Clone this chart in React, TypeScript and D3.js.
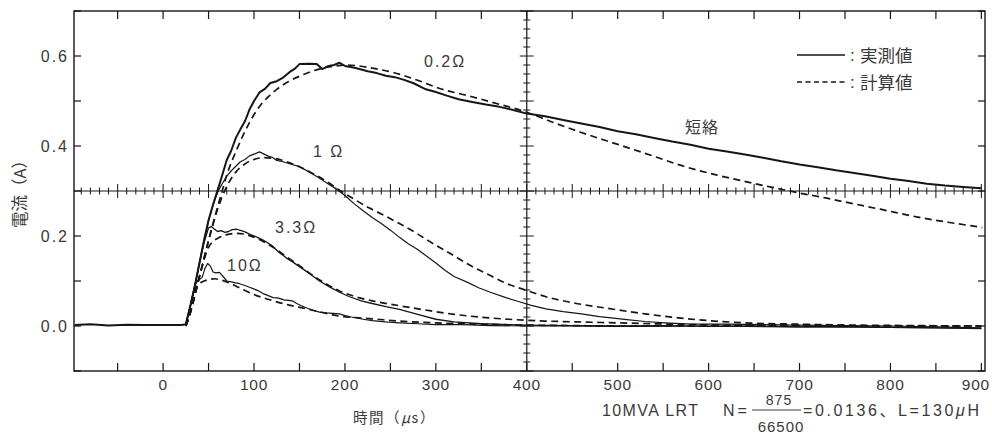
import React from 'react';
import * as d3 from 'd3';

// ---- axis data ----
const xTickValues = [-50, 0, 50, 100, 150, 200, 250, 300, 350, 400, 450, 500, 550, 600, 650, 700, 750, 800, 850, 900];
const xTickLabels = [0, 100, 200, 300, 400, 500, 600, 700, 800, 900];
const yTickValues = [-0.1, 0, 0.1, 0.2, 0.3, 0.4, 0.5, 0.6, 0.7];
const yTickLabels = [0.0, 0.2, 0.4, 0.6];

// ---- 0.2 Ω / short circuit : measured (solid) ----
const tMeas02 = [-97, -80, -60, -40, -20, 0, 20, 25, 30, 35, 40, 45, 50, 55, 60, 65, 70, 75, 80, 85, 90, 95, 100, 106, 112, 118, 125, 132, 139, 145, 150, 160, 169, 175, 182, 188, 194, 200, 208, 216, 225, 235, 245, 255, 265, 275, 289, 300, 312, 325, 340, 355, 370, 385, 400, 420, 440, 460, 480, 500, 520, 540, 560, 580, 600, 620, 640, 660, 680, 700, 720, 740, 760, 780, 800, 820, 840, 860, 880, 900];
const vMeas02 = [0.002, 0.004, 0.001, 0.003, 0.002, 0.002, 0.002, 0.004, 0.045, 0.09, 0.14, 0.19, 0.235, 0.27, 0.302, 0.335, 0.369, 0.39, 0.418, 0.437, 0.455, 0.481, 0.5, 0.519, 0.527, 0.54, 0.544, 0.552, 0.564, 0.572, 0.582, 0.583, 0.582, 0.571, 0.578, 0.58, 0.585, 0.578, 0.575, 0.571, 0.566, 0.562, 0.556, 0.553, 0.547, 0.54, 0.526, 0.52, 0.512, 0.504, 0.498, 0.492, 0.487, 0.48, 0.472, 0.466, 0.458, 0.45, 0.442, 0.433, 0.426, 0.418, 0.41, 0.403, 0.394, 0.388, 0.381, 0.374, 0.366, 0.359, 0.353, 0.346, 0.34, 0.334, 0.327, 0.322, 0.316, 0.312, 0.309, 0.306];
// ---- 0.2 Ω / short circuit : calculated (dashed) ----
const tCalc02 = [25, 30, 40, 50, 60, 65, 70, 81, 95, 106, 115, 125, 137, 150, 165, 180, 190, 202, 215, 230, 252, 280, 307, 335, 362, 400, 427, 460, 501, 540, 574, 610, 647, 675, 701, 730, 756, 790, 830, 865, 901];
const vCalc02 = [0, 0.03, 0.11, 0.19, 0.265, 0.3, 0.335, 0.392, 0.452, 0.488, 0.508, 0.526, 0.542, 0.555, 0.567, 0.575, 0.578, 0.58, 0.578, 0.573, 0.564, 0.546, 0.526, 0.512, 0.497, 0.475, 0.454, 0.43, 0.403, 0.377, 0.354, 0.335, 0.318, 0.306, 0.295, 0.284, 0.273, 0.259, 0.242, 0.23, 0.219];

// ---- 1 Ω ----
const tMeas1 = [25, 30, 35, 40, 45, 50, 55, 60, 65, 70, 75, 80, 85, 90, 95, 100, 106, 110, 115, 120, 125, 132, 140, 150, 160, 170, 180, 190, 200, 210, 220, 230, 240, 250, 260, 270, 280, 290, 300, 310, 320, 335, 347, 360, 377, 390, 405, 421, 440, 460, 480, 493, 510, 530, 552, 580, 620, 660, 700, 750, 800, 850, 900];
const vMeas1 = [0.004, 0.045, 0.09, 0.14, 0.19, 0.235, 0.27, 0.298, 0.316, 0.333, 0.345, 0.355, 0.365, 0.37, 0.378, 0.382, 0.387, 0.383, 0.378, 0.375, 0.368, 0.365, 0.36, 0.354, 0.343, 0.331, 0.318, 0.305, 0.29, 0.272, 0.256, 0.241, 0.228, 0.213, 0.197, 0.182, 0.17, 0.155, 0.14, 0.124, 0.11, 0.097, 0.085, 0.075, 0.063, 0.055, 0.046, 0.038, 0.032, 0.027, 0.021, 0.018, 0.014, 0.01, 0.007, 0.004, 0.004, 0.003, 0.002, 0.001, 0.0, -0.002, -0.004];
const tCalc1 = [25, 30, 40, 50, 60, 70, 80, 90, 100, 110, 120, 130, 140, 150, 160, 170, 180, 194, 210, 227, 240, 255, 278, 293, 315, 340, 360, 377, 400, 421, 450, 493, 530, 567, 600, 640, 700, 760, 820, 900];
const vCalc1 = [0, 0.03, 0.11, 0.19, 0.26, 0.31, 0.342, 0.36, 0.37, 0.374, 0.373, 0.369, 0.362, 0.354, 0.344, 0.333, 0.321, 0.302, 0.282, 0.262, 0.249, 0.233, 0.207, 0.188, 0.162, 0.132, 0.112, 0.095, 0.079, 0.065, 0.052, 0.038, 0.027, 0.018, 0.012, 0.007, 0.004, 0.002, 0.001, 0.0];

// ---- 3.3 Ω ----
const tMeas33 = [25, 30, 35, 40, 45, 48, 50, 53, 56, 60, 64, 68, 72, 76, 81, 86, 90, 95, 99, 105, 110, 114, 120, 128, 135, 142, 150, 160, 172, 183, 194, 205, 218, 230, 245, 260, 280, 300, 320, 350, 380, 400, 450, 500, 550, 600, 650, 700, 750, 800, 850, 900];
const vMeas33 = [0.004, 0.045, 0.09, 0.14, 0.185, 0.205, 0.218, 0.221, 0.216, 0.21, 0.212, 0.208, 0.21, 0.214, 0.215, 0.212, 0.209, 0.204, 0.201, 0.196, 0.191, 0.186, 0.178, 0.163, 0.152, 0.143, 0.132, 0.118, 0.1, 0.087, 0.075, 0.065, 0.056, 0.05, 0.043, 0.037, 0.026, 0.015, 0.009, 0.005, 0.003, 0.002, 0.001, 0.0, 0.001, -0.001, 0.0, -0.002, -0.001, -0.003, -0.004, -0.006];
const tCalc33 = [25, 30, 40, 50, 55, 62, 70, 81, 90, 99, 110, 121, 135, 150, 165, 180, 194, 210, 230, 260, 290, 320, 347, 380, 420, 457, 500, 560, 620, 700, 800, 900];
const vCalc33 = [0, 0.03, 0.11, 0.175, 0.188, 0.197, 0.203, 0.206, 0.204, 0.198, 0.188, 0.175, 0.155, 0.134, 0.112, 0.093, 0.078, 0.066, 0.056, 0.045, 0.035, 0.026, 0.02, 0.015, 0.011, 0.009, 0.007, 0.004, 0.002, 0.001, 0.0, 0.0];

// ---- 10 Ω ----
const tMeas10 = [25, 30, 35, 38, 43, 46, 49, 52, 55, 58, 62, 66, 70, 75, 80, 84, 90, 95, 99, 105, 110, 115, 121, 127, 133, 138, 142, 147, 152, 158, 165, 172, 180, 187, 194, 200, 207, 213, 220, 230, 245, 260, 280, 300, 330, 360, 400, 450, 500, 600, 700, 800, 900];
const vMeas10 = [0.004, 0.045, 0.09, 0.1, 0.108, 0.128, 0.139, 0.133, 0.12, 0.118, 0.119, 0.11, 0.1, 0.098, 0.096, 0.094, 0.09, 0.086, 0.083, 0.078, 0.072, 0.068, 0.063, 0.062, 0.058, 0.057, 0.056, 0.05, 0.045, 0.04, 0.035, 0.031, 0.029, 0.028, 0.027, 0.023, 0.02, 0.018, 0.015, 0.012, 0.009, 0.007, 0.005, 0.003, 0.003, 0.001, 0.0, 0.0, -0.001, 0.0, -0.002, -0.003, -0.005];
const tCalc10 = [25, 30, 35, 38, 45, 50, 57, 62, 70, 84, 100, 121, 140, 158, 175, 194, 210, 230, 260, 300, 350, 400, 450, 500, 900];
const vCalc10 = [0, 0.03, 0.075, 0.09, 0.1, 0.103, 0.105, 0.103, 0.098, 0.085, 0.07, 0.056, 0.046, 0.038, 0.03, 0.022, 0.019, 0.016, 0.011, 0.007, 0.004, 0.002, 0.001, 0.0, 0.0];

const curveLabels = ['0.2Ω', '1 Ω', '3.3Ω', '10Ω', '短絡'];
const curveLabelAt = [[424, 0.575], [313, 0.375], [275, 0.207], [227, 0.123], [685, 0.43]];

const series = [
  { t: tMeas02, v: vMeas02, dashed: false, w: 2 },
  { t: tCalc02, v: vCalc02, dashed: true, w: 1.7 },
  { t: tMeas1, v: vMeas1, dashed: false, w: 1.2 },
  { t: tCalc1, v: vCalc1, dashed: true, w: 1.7 },
  { t: tMeas33, v: vMeas33, dashed: false, w: 1.3 },
  { t: tCalc33, v: vCalc33, dashed: true, w: 1.7 },
  { t: tMeas10, v: vMeas10, dashed: false, w: 1.2 },
  { t: tCalc10, v: vCalc10, dashed: true, w: 1.7 },
];

const FONT = "'Liberation Sans', Arial, 'Noto Sans CJK JP', sans-serif";
const CJK = "'Noto Sans CJK JP', 'Liberation Sans', sans-serif";
const TXT = '#3a3a3a';
const INK = '#161616';

export default function App() {
  const x = d3.scaleLinear().domain([-98, 904]).range([74, 985]);
  const y = d3.scaleLinear().domain([-0.1, 0.7]).range([371, 11]);
  const [x0, x1] = x.range();
  const [y0, y1] = y.range();
  const cy = y(0.3);
  const cx = x(400);

  const solidLine = d3.line<number>().x((d: any) => x(d[0])).y((d: any) => y(d[1])).curve(d3.curveLinear) as any;
  const smoothLine = d3.line<number>().x((d: any) => x(d[0])).y((d: any) => y(d[1])).curve(d3.curveMonotoneX) as any;

  const hTicks = d3.range(-90, 901, 10);
  const vTicks = d3.range(-0.1, 0.7001, 0.02);

  return (
    <svg width={992} height={442} style={{ position: 'absolute', left: 0, top: 0, background: '#fff' }} fontFamily={FONT}>
      <rect x={0} y={0} width={992} height={442} fill="#fff" />
      {/* frame */}
      <rect x={x0} y={y1} width={x1 - x0} height={y0 - y1} fill="none" stroke={INK} strokeWidth={1.4} />
      {/* frame ticks */}
      {xTickValues.map((t) => (
        <g key={'xt' + t}>
          <line x1={x(t)} x2={x(t)} y1={y0} y2={y0 - 8} stroke={INK} strokeWidth={1.2} />
          <line x1={x(t)} x2={x(t)} y1={y1} y2={y1 + 8} stroke={INK} strokeWidth={1.2} />
        </g>
      ))}
      {yTickValues.map((v) => (
        <g key={'yt' + v}>
          <line x1={x0} x2={x0 + 7} y1={y(v)} y2={y(v)} stroke={INK} strokeWidth={1.2} />
          <line x1={x1} x2={x1 - 7} y1={y(v)} y2={y(v)} stroke={INK} strokeWidth={1.2} />
        </g>
      ))}
      {/* cross hair */}
      <line x1={x0} x2={x1} y1={cy} y2={cy} stroke={INK} strokeWidth={1.2} />
      {hTicks.map((t) => {
        const major = t % 50 === 0;
        const h = major ? 7 : 3.5;
        return <line key={'ht' + t} x1={x(t)} x2={x(t)} y1={cy - h} y2={cy + h} stroke={INK} strokeWidth={1} />;
      })}
      <line x1={cx} x2={cx} y1={y1} y2={y0} stroke={INK} strokeWidth={1.2} />
      {vTicks.map((v, i) => {
        const major = i % 5 === 0;
        const h = major ? 7 : 3.5;
        return <line key={'vt' + i} x1={cx - h} x2={cx + h} y1={y(v)} y2={y(v)} stroke={INK} strokeWidth={1} />;
      })}
      {/* tick labels */}
      {xTickLabels.map((t) => {
        const last = t === 900;
        return (
          <text key={'xl' + t} x={last ? 990 : x(t)} y={390} textAnchor={last ? 'end' : 'middle'} fontSize={15.5} fill={TXT} letterSpacing={0.8}>{t}</text>
        );
      })}
      {yTickLabels.map((v) => (
        <text key={'yl' + v} x={69} y={y(v)} dy="0.36em" textAnchor="end" fontSize={16} fill={TXT} letterSpacing={2}>{v.toFixed(1)}</text>
      ))}
      {/* axis titles */}
      <text transform={`translate(26,190) rotate(-90)`} textAnchor="middle" fontSize={16.5} fill={TXT} fontFamily={CJK}>電流（A）</text>
      <text x={353} y={423} fontSize={14.5} fill={TXT} letterSpacing={1.5} fontFamily={CJK}>時間（<tspan fontStyle="italic">μ</tspan>s）</text>
      {/* data */}
      {series.map((s, i) => (
        <path key={'s' + i} d={(s.dashed ? smoothLine : solidLine)(s.t.map((t, j) => [t, s.v[j]]))} fill="none" stroke={INK}
          strokeWidth={s.w} strokeDasharray={s.dashed ? '7,4.5' : undefined} strokeLinejoin="round" />
      ))}
      {/* curve labels */}
      {curveLabels.map((lb, i) => (
        <text key={'cl' + i} x={curveLabelAt[i][0]} y={y(curveLabelAt[i][1])} fontSize={16} fill={TXT} letterSpacing={i === 4 ? 1 : 2}
          fontFamily={i === 4 ? CJK : FONT}>{lb}</text>
      ))}
      {/* legend */}
      <line x1={797} x2={845} y1={55} y2={55} stroke={INK} strokeWidth={1.4} />
      <text x={850} y={61} fontSize={17} fill={TXT}>:</text>
      <text x={860} y={62} fontSize={17.5} fill={TXT} fontFamily={CJK}>実測値</text>
      <line x1={797} x2={845} y1={82} y2={82} stroke={INK} strokeWidth={1.4} strokeDasharray="5,3.5" />
      <text x={850} y={88} fontSize={17} fill={TXT}>:</text>
      <text x={860} y={89} fontSize={17.5} fill={TXT} fontFamily={CJK}>計算値</text>
      {/* annotation */}
      <text x={602} y={416} fontSize={16} fill={TXT} letterSpacing={1.4}>10MVA LRT</text>
      <text x={723} y={416} fontSize={16} fill={TXT} letterSpacing={3}>N=</text>
      <text x={779} y={405} textAnchor="middle" fontSize={14} fill={TXT} letterSpacing={1}>875</text>
      <line x1={752} x2={801} y1={410} y2={410} stroke={TXT} strokeWidth={1} />
      <text x={781} y={432} textAnchor="middle" fontSize={15} fill={TXT} letterSpacing={1}>66500</text>
      <text x={803} y={416} fontSize={16} fill={TXT} letterSpacing={2.6}>=0.0136<tspan fontFamily={CJK}>、</tspan>L=130<tspan fontStyle="italic">μ</tspan>H</text>
    </svg>
  );
}
